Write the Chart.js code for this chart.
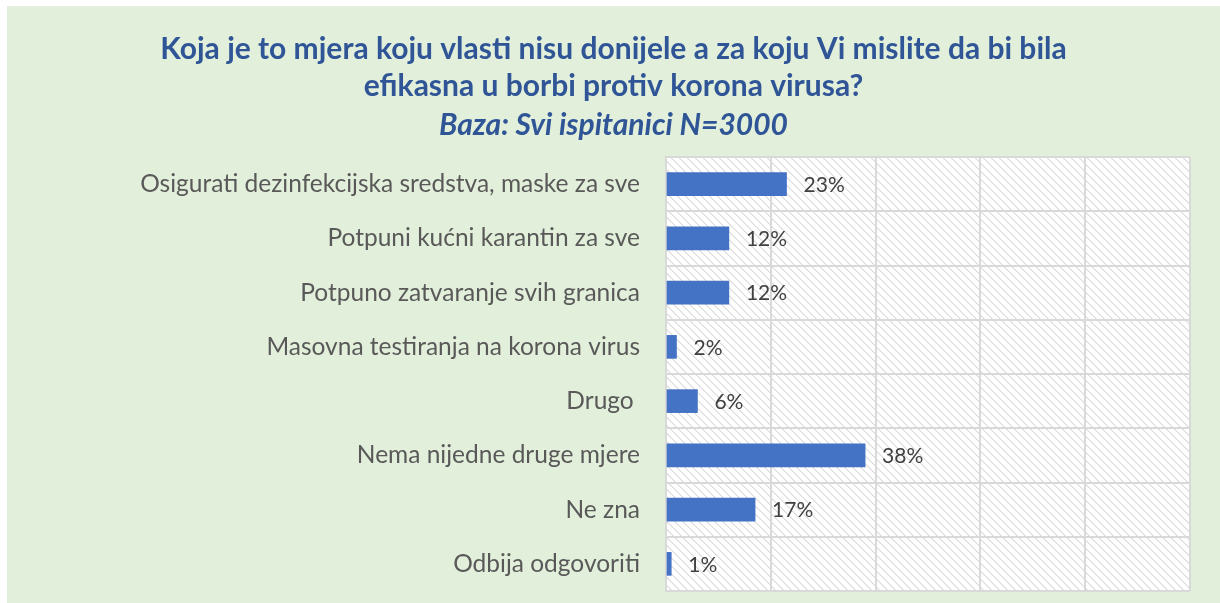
<!DOCTYPE html>
<html><head><meta charset="utf-8">
<script src="https://cdn.jsdelivr.net/npm/chart.js@4"></script>
<style>
html,body{margin:0;padding:0;background:#fff;}
#wrap{position:absolute;left:7px;top:6px;width:1213px;height:597px;background:#E2EFDA;}
</style></head><body>
<div id="wrap"><canvas id="c" width="1213" height="597"></canvas></div>
<script>
const categories = [
  'Osigurati dezinfekcijska sredstva, maske za sve',
  'Potpuni kućni karantin za sve',
  'Potpuno zatvaranje svih granica',
  'Masovna testiranja na korona virus',
  'Drugo ',
  'Nema nijedne druge mjere',
  'Ne zna',
  'Odbija odgovoriti'
];
const values = [23, 12, 12, 2, 6, 38, 17, 1];
const titleLines = [
  'Koja je to mjera koju vlasti nisu donijele a za koju Vi mislite da bi bila',
  'efikasna u borbi protiv korona virusa?'
];
const subtitleText = 'Baza: Svi ispitanici N=3000';

const FONT = 'Lato, "Open Sans", sans-serif';

function hatch(){
  const p = document.createElement('canvas');
  p.width = 8; p.height = 8;
  const g = p.getContext('2d');
  g.fillStyle = '#ffffff'; g.fillRect(0,0,8,8);
  g.fillStyle = '#dcdcdc';
  for (let i=0;i<8;i++){ g.fillRect(i, i, 1, 1); }
  g.fillStyle = '#ebebeb';
  for (let i=0;i<8;i++){ g.fillRect((i+1)%8, i, 1, 1); }
  return g.createPattern(p,'repeat');
}

const titlePlugin = {
  id:'titleDraw',
  afterDraw(chart){
    const ctx = chart.ctx, cx = chart.width/2;
    ctx.save();
    ctx.fillStyle = '#2F5597';
    ctx.textAlign = 'center';
    ctx.textBaseline = 'middle';
    ctx.font = 'bold 30px ' + FONT;
    ctx.fillText(titleLines[0], cx, 43);
    ctx.fillText(titleLines[1], cx, 80);
    ctx.font = 'italic bold 30px ' + FONT;
    ctx.fillText(subtitleText, cx, 119);
    ctx.restore();
  }
};
const bgPlugin = {
  id:'plotBg',
  beforeDraw(chart){
    const a = chart.chartArea, ctx = chart.ctx;
    ctx.save();
    ctx.fillStyle = hatch();
    ctx.fillRect(a.left, a.top, a.right-a.left, a.bottom-a.top);
    ctx.restore();
  }
};
const labelPlugin = {
  id:'valLabels',
  afterDatasetsDraw(chart){
    const ctx = chart.ctx;
    const meta = chart.getDatasetMeta(0);
    ctx.save();
    ctx.fillStyle = '#404040';
    ctx.font = '21px ' + FONT;
    ctx.textAlign = 'left';
    ctx.textBaseline = 'middle';
    meta.data.forEach((bar,i)=>{
      ctx.fillText(values[i] + '%', bar.x + 17, bar.y + 1);
    });
    ctx.restore();
  }
};

new Chart(document.getElementById('c'), {
  type:'bar',
  data:{ labels: categories, datasets:[{ data: values, backgroundColor:'#4472C4', barThickness:23 }] },
  options:{
    indexAxis:'y',
    responsive:false,
    animation:false,
    layout:{ padding:{ top:151, right:30, bottom:12, left:0 } },
    plugins:{ legend:{display:false}, tooltip:{enabled:false} },
    scales:{
      x:{ min:0, max:100, ticks:{ stepSize:20, display:false },
          grid:{ color:'#D9D9D9', lineWidth:2, drawTicks:false },
          border:{ display:false },
          afterFit(s){ s.height = 0; s.paddingLeft = 0; s.paddingRight = 0; } },
      y:{ ticks:{ color:'#595959', font:{ size:24.5, family:FONT }, padding:26 },
          grid:{ color:'#D9D9D9', lineWidth:2, drawTicks:false, offset:true },
          border:{ color:'#D9D9D9', width:2 },
          afterFit(s){ s.width = 659; s.paddingTop = 0; s.paddingBottom = 0; } }
    }
  },
  plugins:[bgPlugin, labelPlugin, titlePlugin]
});
</script>
</body></html>
